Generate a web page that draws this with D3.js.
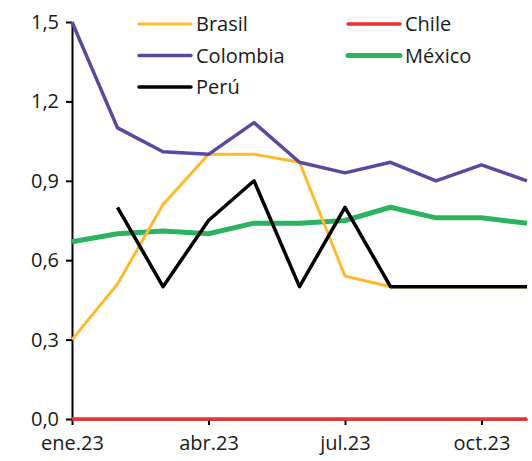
<!DOCTYPE html>
<html>
<head>
<meta charset="utf-8">
<script src="https://cdn.jsdelivr.net/npm/d3@7"></script>
<style>
  body { margin: 0; background: #fff; }
  svg text { font-family: "Open Sans", sans-serif; font-size: 20px; fill: #1a1a1a; }
</style>
</head>
<body>
<div id="chart"></div>
<script>
// months ene.23 .. nov.23
var months = ["ene.23","feb.23","mar.23","abr.23","may.23","jun.23","jul.23","ago.23","sep.23","oct.23","nov.23"];
var tickMonths = [0, 3, 6, 9];
var yTicks = [0, 0.3, 0.6, 0.9, 1.2, 1.5];

var brasil   = [0.30, 0.51, 0.81, 1.00, 1.00, 0.97, 0.54, 0.50, 0.50, 0.50, 0.50];
var chile    = [0, 0, 0, 0, 0, 0, 0, 0, 0, 0, 0];
var colombia = [1.50, 1.10, 1.01, 1.00, 1.12, 0.97, 0.93, 0.97, 0.90, 0.96, 0.90];
var mexico   = [0.67, 0.70, 0.71, 0.70, 0.74, 0.74, 0.75, 0.80, 0.76, 0.76, 0.74];
var peru     = [null, 0.80, 0.50, 0.75, 0.90, 0.50, 0.80, 0.50, 0.50, 0.50, 0.50];

var series = [
  { name: "Brasil",   values: brasil,   color: "#FDBB2F", w: 3 },
  { name: "Chile",    values: chile,    color: "#EE2F34", w: 3.5 },
  { name: "Colombia", values: colombia, color: "#5A4A9F", w: 3.5 },
  { name: "México",   values: mexico,   color: "#2BB35F", w: 5 },
  { name: "Perú",     values: peru,     color: "#000000", w: 3.5 }
];
var drawOrder = ["Chile", "México", "Brasil", "Colombia", "Perú"];

var width = 532, height = 461;
var margin = { top: 22, right: 5, bottom: 42, left: 72 };

var svg = d3.select("#chart").append("svg")
  .attr("width", width)
  .attr("height", height);

var x = d3.scaleLinear()
  .domain([0, months.length - 1])
  .range([margin.left, width - margin.right]);
var y = d3.scaleLinear()
  .domain([0, 1.5])
  .range([height - margin.bottom, margin.top]);

// axes
var yAxis = svg.append("g")
  .attr("transform", "translate(" + margin.left + ",0)")
  .call(d3.axisLeft(y).tickValues(yTicks).tickSize(6).tickSizeOuter(0).tickPadding(7)
    .tickFormat(function (d) { return d3.format(".1f")(d).replace(".", ","); }));

var xAxis = svg.append("g")
  .attr("transform", "translate(0," + y(0) + ")")
  .call(d3.axisBottom(x).tickValues(tickMonths).tickSize(6).tickSizeOuter(0).tickPadding(8)
    .tickFormat(function (d) { return months[d]; }));

svg.selectAll(".domain, .tick line").attr("stroke", "#000").attr("stroke-width", 2);
svg.selectAll(".tick text").style("font-size", "20px");
xAxis.selectAll(".tick text").attr("dy", "0.85em");

// lines
var line = d3.line()
  .defined(function (d) { return d != null; })
  .x(function (d, i) { return x(i); })
  .y(function (d) { return y(d); });

drawOrder.forEach(function (name) {
  var s = series.find(function (d) { return d.name === name; });
  svg.append("path")
    .datum(s.values)
    .attr("fill", "none")
    .attr("stroke", s.color)
    .attr("stroke-width", s.w)
    .attr("stroke-linejoin", "round")
    .attr("d", line);
});

// legend, two columns
var legend = svg.append("g");
series.forEach(function (s, i) {
  var col = i % 2, row = Math.floor(i / 2);
  var lx = 139 + col * 209, ly = 24 + row * 31.5;
  legend.append("line")
    .attr("x1", lx).attr("x2", lx + 52)
    .attr("y1", ly).attr("y2", ly)
    .attr("stroke", s.color)
    .attr("stroke-width", s.w)
    .attr("stroke-linecap", "round");
  legend.append("text")
    .attr("x", lx + 57)
    .attr("y", ly)
    .attr("dy", "0.35em")
    .text(s.name);
});
</script>
</body>
</html>
